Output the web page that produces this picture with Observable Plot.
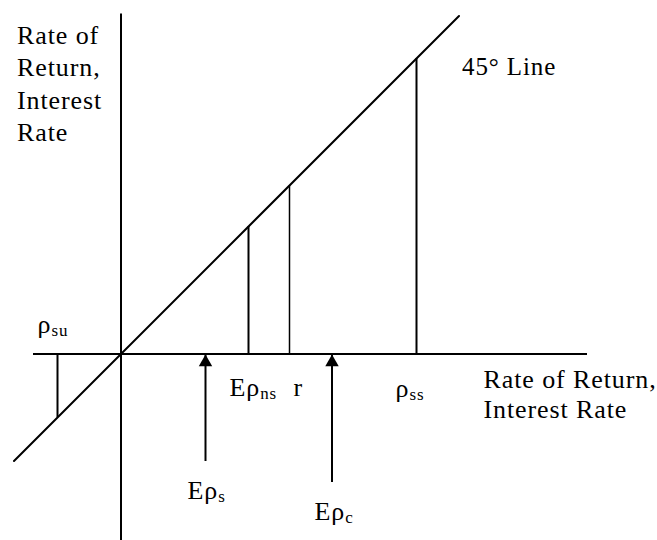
<!DOCTYPE html>
<html>
<head>
<meta charset="utf-8">
<script src="https://cdn.jsdelivr.net/npm/d3@7"></script>
<script src="https://cdn.jsdelivr.net/npm/@observablehq/plot@0.6"></script>
<style>
  html, body { margin: 0; padding: 0; background: #fff; }
  svg text { font-family: "Liberation Serif", "Times New Roman", serif !important; letter-spacing: 0.9px; }
</style>
</head>
<body>
<div id="chart"></div>
<script>
// Axis extents (rate units, origin at 0)
const axisXExtent = [-8.75, 46.65];
const axisYExtent = [-18.7, 34.0];
// 45° line endpoints (y = x)
const diagonalEnds = [-10.7, 33.8];
// Vertical drop lines from the axis to the 45° line
const dropLabels = ["ρ_su", "Eρ_ns", "r", "ρ_ss"];
const dropValues = [-6.35, 12.75, 16.85, 29.55];
// Arrows pointing up to the axis
const arrowLabels = ["Eρ_s", "Eρ_c"];
const arrowValues = [8.45, 21.1];
const arrowTails = [-10.75, -12.85];
// Text
const yAxisTitle = "Rate of\nReturn,\nInterest\nRate";
const xAxisTitle = "Rate of Return,\nInterest Rate";
const lineLabel = "45° Line";

const drops = dropLabels.map((label, i) => ({label, value: dropValues[i]}));
const arrows = arrowLabels.map((label, i) => ({label, value: arrowValues[i], tail: arrowTails[i]}));
// label offsets in pixels (style only)
const dropDx = [-20, -19, 4, -21];
const dropDy = [-21.5, 41.5, 41.5, 42.5];
const arrowDx = [-18, -17.5];
const arrowDy = [37, 37];

const font = "'Liberation Serif', 'Times New Roman', serif";
const fs = 26;

const chart = Plot.plot({
  width: 657,
  height: 540,
  margin: 0,
  x: {domain: [-12.05, 53.65], axis: null},
  y: {domain: [-18.65, 35.35], axis: null},
  style: {background: "#fff", color: "#000"},
  marks: [
    // axes
    Plot.ruleY([0], {x1: axisXExtent[0], x2: axisXExtent[1], stroke: "#000", strokeWidth: 2}),
    Plot.ruleX([0], {y1: axisYExtent[0], y2: axisYExtent[1], stroke: "#000", strokeWidth: 2}),
    // 45° line
    Plot.line(diagonalEnds, {x: d => d, y: d => d, stroke: "#000", strokeWidth: 2}),
    // drop lines
    Plot.ruleX(drops, {x: "value", y1: 0, y2: "value", stroke: "#000",
      strokeWidth: d => d.label === "r" ? 1.5 : 2}),
    // arrows
    Plot.ruleX(arrows, {x: "value", y1: "tail", y2: 0, stroke: "#000", strokeWidth: 2}),
    Plot.dot(arrows, {x: "value", y: 0, symbol: "triangle", r: 5, fill: "#000", stroke: "none", dy: 8.3}),
    // drop labels
    ...drops.map((d, i) => Plot.text([d], {x: "value", y: 0, text: "label", textAnchor: "start",
      lineAnchor: "bottom", dx: dropDx[i], dy: dropDy[i], fontFamily: font, fontSize: fs, fill: "#000"})),
    // arrow labels
    ...arrows.map((d, i) => Plot.text([d], {x: "value", y: "tail", text: "label", textAnchor: "start",
      lineAnchor: "bottom", dx: arrowDx[i], dy: arrowDy[i], fontFamily: font, fontSize: fs, fill: "#000"})),
    // vertical axis title
    Plot.text([yAxisTitle], {x: 0, y: axisYExtent[1], text: d => d, textAnchor: "start",
      lineAnchor: "top", lineHeight: 1.25, dx: -104, dy: 6.5, fontFamily: font, fontSize: fs, fill: "#000"}),
    // horizontal axis title
    Plot.text([xAxisTitle], {x: axisXExtent[1], y: 0, text: d => d, textAnchor: "start",
      lineAnchor: "bottom", lineHeight: 1.15, dx: -104, dy: 63.5, fontFamily: font, fontSize: fs, fill: "#000"}),
    // 45° line label
    Plot.text([lineLabel], {x: diagonalEnds[1], y: diagonalEnds[1], text: d => d, textAnchor: "start",
      lineAnchor: "bottom", dx: 3, dy: 58.5, fontFamily: font, fontSize: 25, fill: "#000"})
  ]
});

// turn "main_sub" labels into real subscripts
d3.select(chart).selectAll("text").each(function () {
  const t = this.textContent;
  if (this.childElementCount === 0 && t.includes("_")) {
    const [main, sub] = t.split("_");
    this.textContent = "";
    const a = document.createElementNS("http://www.w3.org/2000/svg", "tspan");
    a.textContent = main;
    const b = document.createElementNS("http://www.w3.org/2000/svg", "tspan");
    b.textContent = sub;
    b.setAttribute("font-size", 17);
    b.setAttribute("dy", 3);
    this.appendChild(a);
    this.appendChild(b);
  }
});

document.getElementById("chart").appendChild(chart);
</script>
</body>
</html>
